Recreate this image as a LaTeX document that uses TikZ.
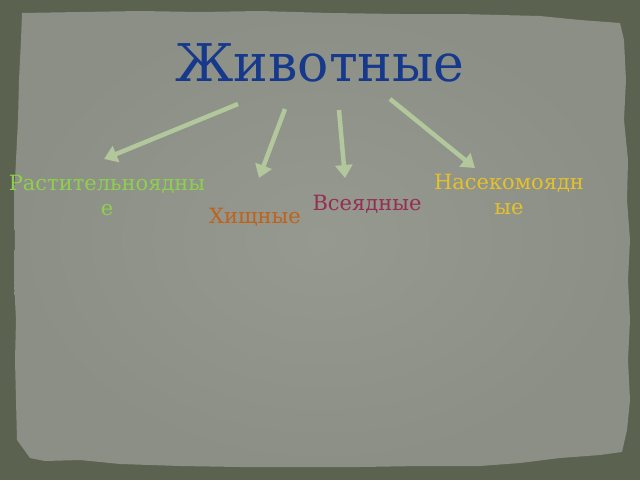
\documentclass[tikz,border=0pt]{standalone}
\usepackage{fontspec}
\setmainfont{DejaVu Serif}
\usetikzlibrary{arrows.meta}
\definecolor{bgdark}{HTML}{5B6350}
\definecolor{paper}{HTML}{8B8F86}
\definecolor{paperlight}{HTML}{959990}
\definecolor{titleblue}{HTML}{17398C}
\definecolor{arrowgreen}{HTML}{B2C79B}
\definecolor{herbgreen}{HTML}{8ED04E}
\definecolor{predorange}{HTML}{C0621A}
\definecolor{omnimaroon}{HTML}{962D52}
\definecolor{insectgold}{HTML}{E5C12A}
\tikzset{
  lbl/.style={font=\fontsize{21}{25}\selectfont, inner sep=0pt, align=center},
  arr/.style={draw=arrowgreen, line width=4.5pt, -{Triangle[length=13pt,width=17pt]}}
}
\begin{document}
\begin{tikzpicture}[x=1pt,y=-1pt]
\useasboundingbox (0,0) rectangle (640,480);
\fill[bgdark] (0,0) rectangle (640,480);
% paper panel with ragged edges
\path[inner color=paperlight, outer color=paper] (22,13) -- (80,12) -- (140,11) -- (200,12) -- (260,11) -- (330,13) -- (400,14) -- (460,14) -- (540,16) -- (580,20) -- (620,23) -- (624,40) -- (626,80) -- (624,120) -- (628,160) -- (627,200) -- (630,240) -- (628,280) -- (630,320) -- (628,360) -- (630,400) -- (627,430) -- (622,452) -- (600,455) -- (560,458) -- (520,463) -- (480,466) -- (420,466) -- (360,467) -- (300,467) -- (240,467) -- (180,466) -- (120,464) -- (80,460) -- (45,461) -- (30,458) -- (17,440) -- (16,400) -- (15,360) -- (16,320) -- (14,280) -- (15,240) -- (14,200) -- (16,160) -- (18,120) -- (19,80) -- (21,40) -- cycle;
% title
\node[font=\fontsize{52}{60}\selectfont, text=titleblue, inner sep=0pt, anchor=base] (title) at (320,81) {Животные};
% labels (base anchor = baseline of last line)
\node[lbl, text=herbgreen, anchor=base] (herb) at (107,215) {Растительноядны\\е};
\node[lbl, text=predorange, anchor=base] (pred) at (255,223) {Хищные};
\node[lbl, text=omnimaroon, anchor=base] (omni) at (367,210) {Всеядные};
\node[lbl, text=insectgold, anchor=base] (insect) at (509,214) {Насекомоядн\\ые};
% arrow end points
\coordinate (s1) at (238,104);
\coordinate (e1) at (104,159);
\coordinate (s2) at (285,109);
\coordinate (e2) at (259,178);
\coordinate (s3) at (339,110);
\coordinate (e3) at (345,178);
\coordinate (s4) at (390,99);
\coordinate (e4) at (475,168);
\draw[arr] (s1) -- (e1);
\draw[arr] (s2) -- (e2);
\draw[arr] (s3) -- (e3);
\draw[arr] (s4) -- (e4);
\end{tikzpicture}
\end{document}
